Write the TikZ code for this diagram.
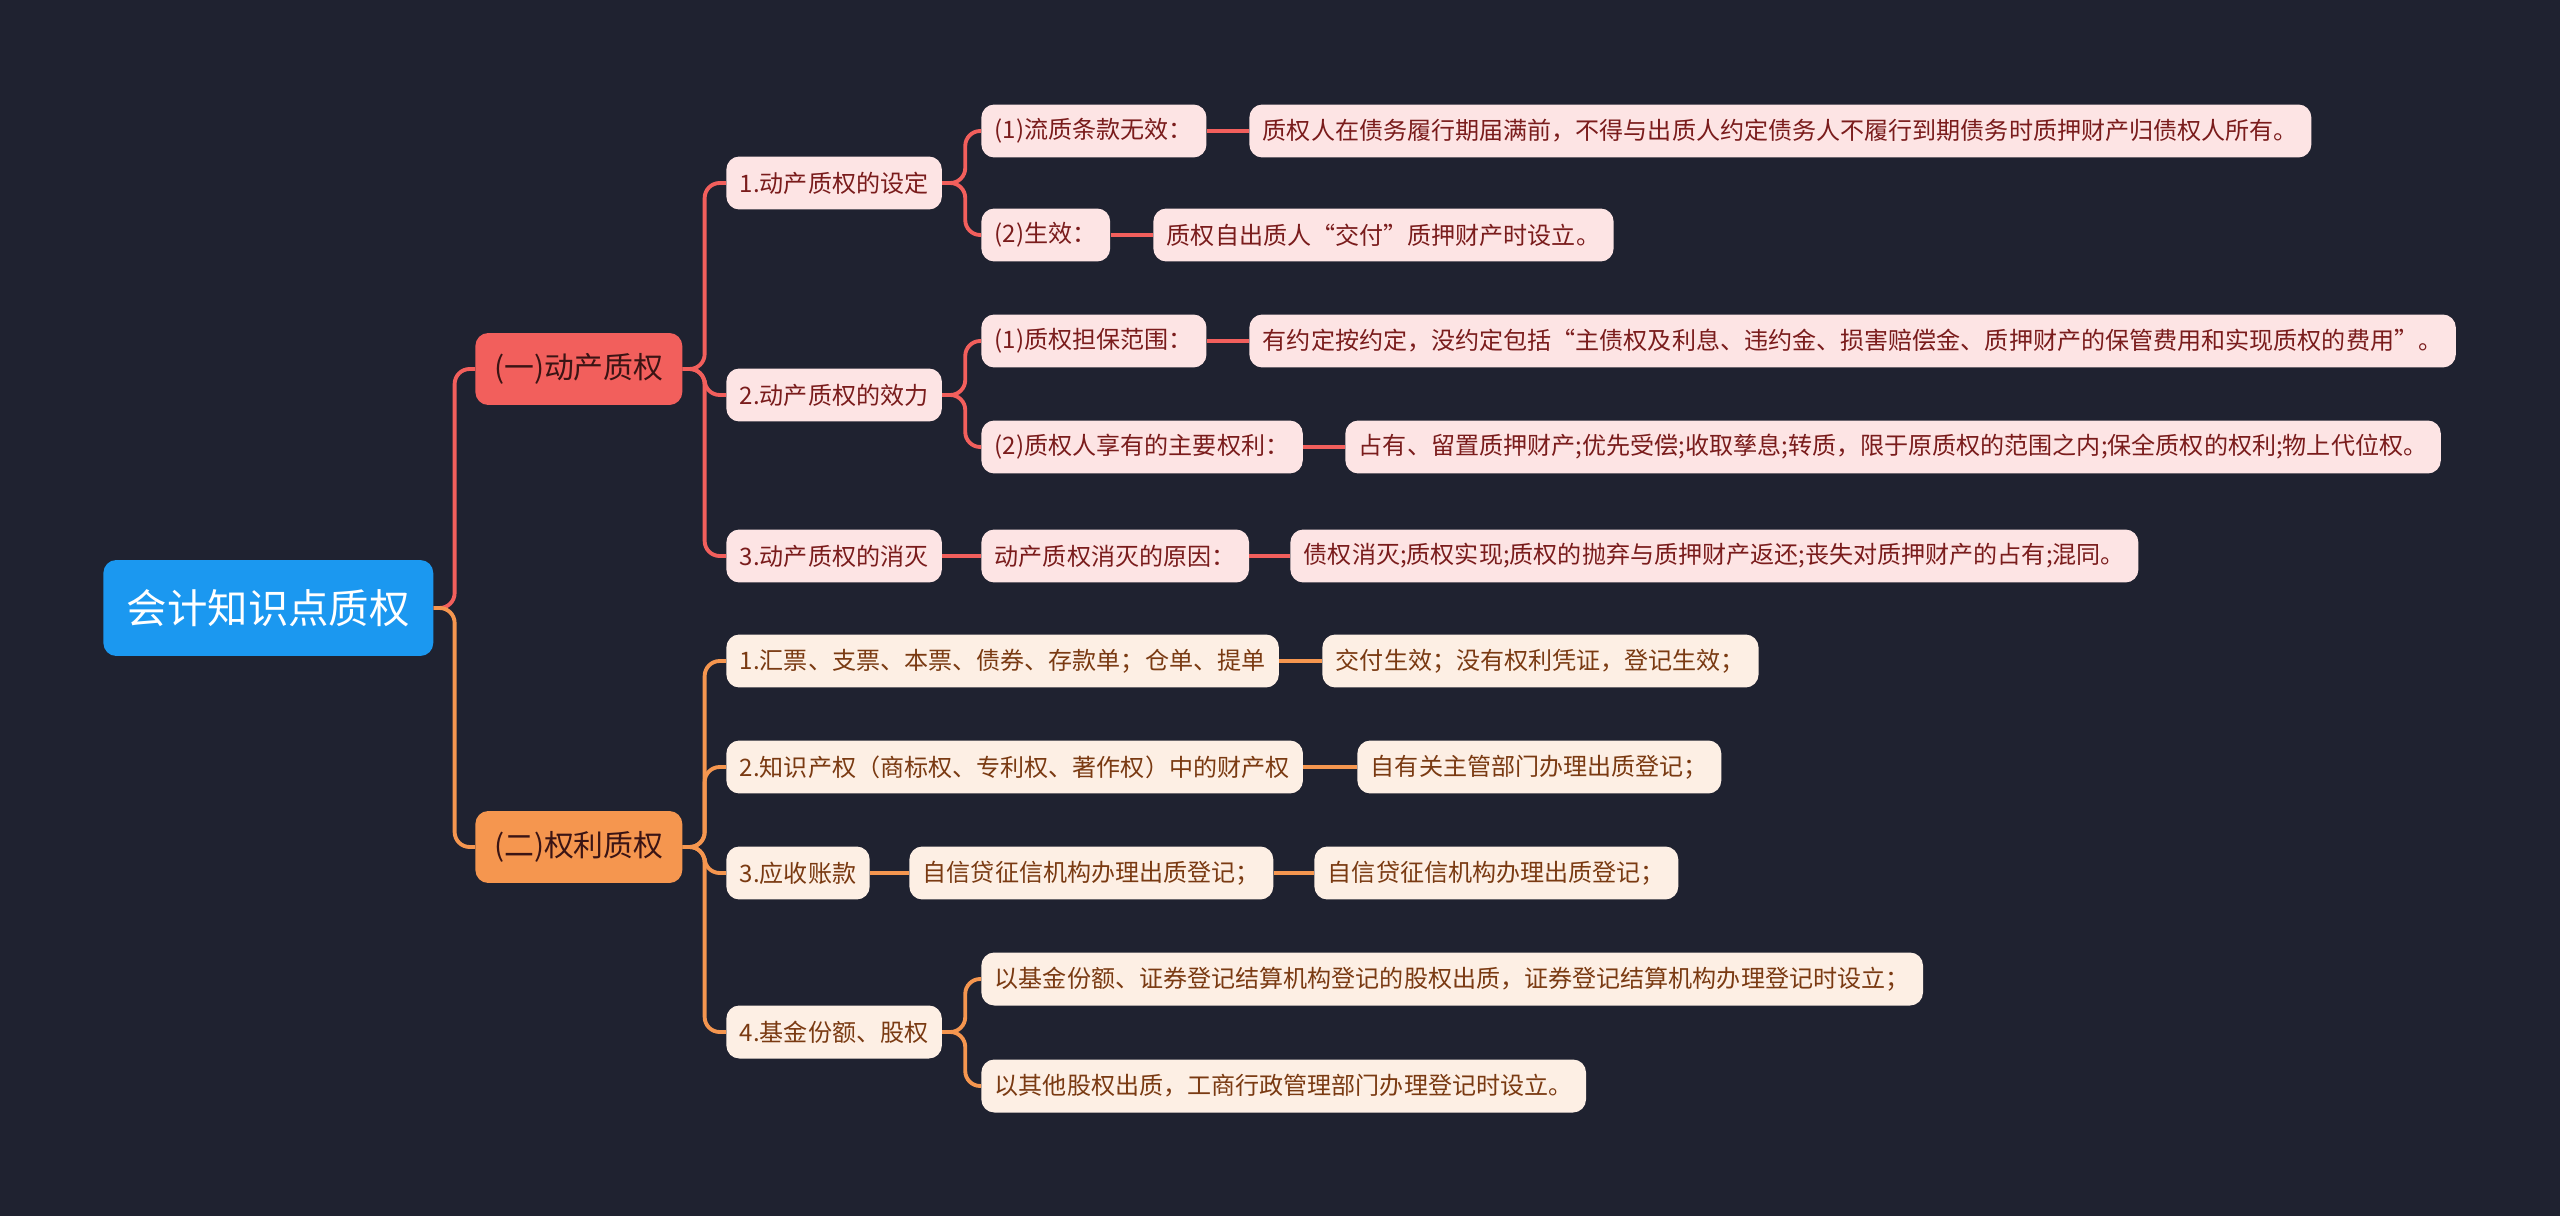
\documentclass[tikz,border=0pt]{standalone}
\usepackage{fontspec}
\setmainfont{Noto Sans CJK SC}
\usetikzlibrary{positioning}
\definecolor{bgdark}{HTML}{1F2230}
\definecolor{rootblue}{HTML}{1B98F0}
\definecolor{movred}{HTML}{F25F5C}
\definecolor{rightorange}{HTML}{F5964F}
\definecolor{pinkfill}{HTML}{FDE4E4}
\definecolor{pinktext}{HTML}{7A1C1C}
\definecolor{peachfill}{HTML}{FDEFE4}
\definecolor{peachtext}{HTML}{7A3A12}
\definecolor{headtext}{HTML}{3A1414}

\tikzset{
  box/.style={rounded corners=0.26cm, anchor=west, inner xsep=0.27cm, minimum height=1.06cm, font=\fontsize{13.7}{16}\selectfont},
  redbox/.style={box, fill=pinkfill, text=pinktext},
  orgbox/.style={box, fill=peachfill, text=peachtext},
  headbox/.style={rounded corners=0.26cm, anchor=west, minimum width=4.14cm, minimum height=1.44cm, text=headtext, font=\fontsize{17}{20}\selectfont},
  redlink/.style={movred, line width=2.2pt, rounded corners=0.3cm},
  orglink/.style={rightorange, line width=2.2pt, rounded corners=0.3cm},
}

\begin{document}
\begin{tikzpicture}[x=0.02cm, y=-0.02cm]
  \useasboundingbox[fill=bgdark] (0,0) rectangle (2560,1216);

  % root and main branches
  \node[rounded corners=0.26cm, anchor=west, fill=rootblue, text=white, minimum width=6.6cm, minimum height=1.92cm,
        font=\fontsize{23}{26}\selectfont] (root) at (103,608) {会计知识点质权};
  \node[headbox, fill=movred] (mov) at (475,369) {(一)动产质权};
  \node[headbox, fill=rightorange] (rgt) at (475,847) {(二)权利质权};

  % first branch
  \node[redbox] (set) at (726,183) {1.动产质权的设定};
  \node[redbox] (eff) at (726,395) {2.动产质权的效力};
  \node[redbox] (end) at (726,556) {3.动产质权的消灭};

  \node[redbox] (flow) at (981,131) {(1)流质条款无效：};
  \node[redbox] (valid) at (981,235) {(2)生效：};
  \node[redbox] (scope) at (981,341) {(1)质权担保范围：};
  \node[redbox] (power) at (981,447) {(2)质权人享有的主要权利：};
  \node[redbox] (cause) at (981,556) {动产质权消灭的原因：};

  \node[redbox] (flowtxt) at (1249,131) {质权人在债务履行期届满前，不得与出质人约定债务人不履行到期债务时质押财产归债权人所有。};
  \node[redbox] (validtxt) at (1153,235) {质权自出质人“交付”质押财产时设立。};
  \node[redbox] (scopetxt) at (1249,341) {有约定按约定，没约定包括“主债权及利息、违约金、损害赔偿金、质押财产的保管费用和实现质权的费用”。};
  \node[redbox] (powertxt) at (1345,447) {占有、留置质押财产;优先受偿;收取孳息;转质，限于原质权的范围之内;保全质权的权利;物上代位权。};
  \node[redbox] (causetxt) at (1290,556) {债权消灭;质权实现;质权的抛弃与质押财产返还;丧失对质押财产的占有;混同。};

  % second branch
  \node[orgbox] (bill) at (726,661) {1.汇票、支票、本票、债券、存款单；仓单、提单};
  \node[orgbox] (ip) at (726,767) {2.知识产权（商标权、专利权、著作权）中的财产权};
  \node[orgbox] (recv) at (726,873) {3.应收账款};
  \node[orgbox] (fund) at (726,1032) {4.基金份额、股权};

  \node[orgbox] (billtxt) at (1322,661) {交付生效；没有权利凭证，登记生效；};
  \node[orgbox] (iptxt) at (1357,767) {自有关主管部门办理出质登记；};
  \node[orgbox] (recvtxt) at (909,873) {自信贷征信机构办理出质登记；};
  \node[orgbox] (recvtxt2) at (1314,873) {自信贷征信机构办理出质登记；};
  \node[orgbox] (fundtxt) at (981,979) {以基金份额、证券登记结算机构登记的股权出质，证券登记结算机构办理登记时设立；};
  \node[orgbox] (stocktxt) at (981,1086) {以其他股权出质，工商行政管理部门办理登记时设立。};

  % connectors
  \draw[redlink] (root.east) -- ++(0.42cm,0) |- (mov.west);
  \draw[orglink] (root.east) -- ++(0.42cm,0) |- (rgt.west);

  \foreach \c in {set,eff,end} {
    \draw[redlink] (mov.east) -- ++(0.44cm,0) |- (\c.west);
  }
  \foreach \c in {flow,valid} {
    \draw[redlink] (set.east) -- ++(0.46cm,0) |- (\c.west);
  }
  \foreach \c in {scope,power} {
    \draw[redlink] (eff.east) -- ++(0.46cm,0) |- (\c.west);
  }
  \draw[redlink] (end) -- (cause);
  \draw[redlink] (flow) -- (flowtxt);
  \draw[redlink] (valid) -- (validtxt);
  \draw[redlink] (scope) -- (scopetxt);
  \draw[redlink] (power) -- (powertxt);
  \draw[redlink] (cause) -- (causetxt);

  \foreach \c in {bill,ip,recv,fund} {
    \draw[orglink] (rgt.east) -- ++(0.44cm,0) |- (\c.west);
  }
  \foreach \c in {fundtxt,stocktxt} {
    \draw[orglink] (fund.east) -- ++(0.46cm,0) |- (\c.west);
  }
  \draw[orglink] (bill) -- (billtxt);
  \draw[orglink] (ip) -- (iptxt);
  \draw[orglink] (recv) -- (recvtxt);
  \draw[orglink] (recvtxt) -- (recvtxt2);
\end{tikzpicture}
\end{document}
